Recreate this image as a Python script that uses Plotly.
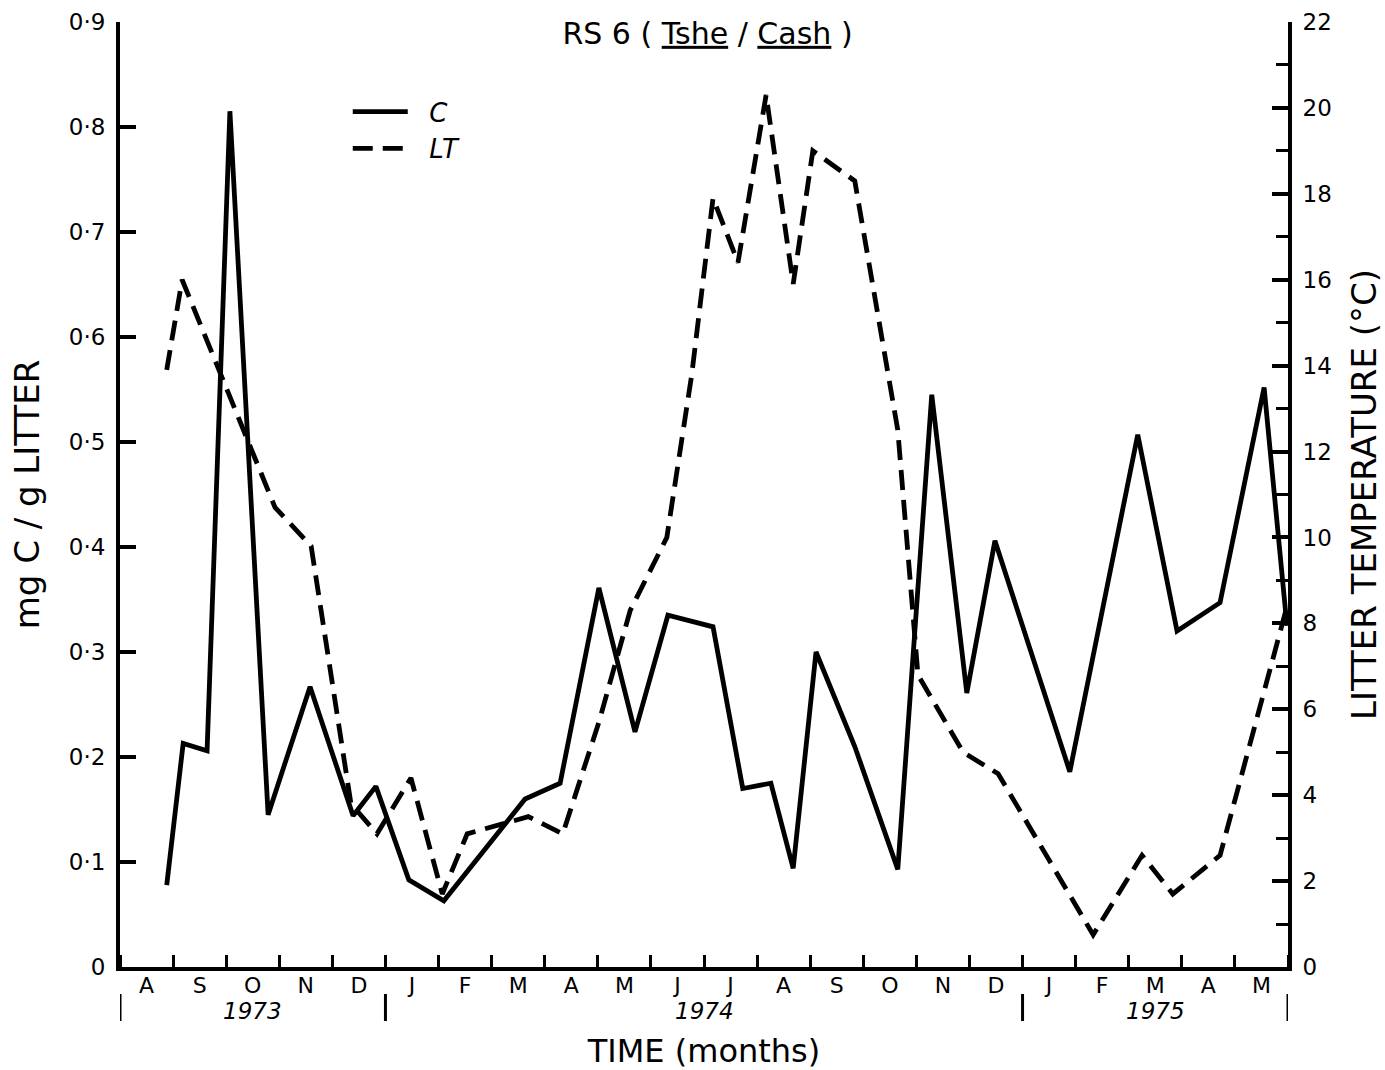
import plotly.graph_objects as go

# ---- data (time in months since 1 Aug 1973) ----
months = ["A", "S", "O", "N", "D", "J", "F", "M", "A", "M", "J",
          "J", "A", "S", "O", "N", "D", "J", "F", "M", "A", "M"]
year_labels = ["1973", "1974", "1975"]
year_bounds = [0, 5, 17, 22]

c_time = [0.88, 1.19, 1.64, 2.07, 2.79, 3.58, 4.39, 4.82, 5.44, 6.10,
          7.63, 8.29, 9.02, 9.70, 10.32, 10.81, 11.17, 11.73, 12.26, 12.68,
          13.11, 13.84, 14.65, 15.29, 15.95, 16.48, 17.89, 19.17, 19.91,
          20.72, 21.55, 21.98]
c_value = [0.078, 0.213, 0.206, 0.815, 0.145, 0.267, 0.144, 0.172, 0.083, 0.063,
           0.160, 0.175, 0.361, 0.224, 0.335, 0.328, 0.324, 0.170, 0.175, 0.094,
           0.300, 0.210, 0.093, 0.545, 0.261, 0.406, 0.186, 0.507, 0.320,
           0.347, 0.552, 0.325]

lt_time = [0.88, 1.17, 2.92, 3.60, 4.35, 4.84, 5.48, 6.07, 6.54, 7.69,
           8.34, 9.02, 9.61, 10.30, 10.77, 11.17, 11.64, 12.17, 12.68, 13.05,
           13.84, 14.65, 15.03, 15.88, 16.54, 17.89, 18.33, 19.25, 19.83,
           20.72, 21.96]
lt_value = [13.9, 16.0, 10.7, 9.8, 3.8, 3.1, 4.4, 1.7, 3.1, 3.5,
            3.1, 5.7, 8.3, 10.0, 13.8, 17.9, 16.4, 20.3, 15.9, 19.0,
            18.3, 12.5, 6.8, 5.0, 4.5, 1.7, 0.75, 2.6, 1.7,
            2.6, 8.3]

left_tickvals = [0, 0.1, 0.2, 0.3, 0.4, 0.5, 0.6, 0.7, 0.8, 0.9]
left_ticktext = ["0", "0·1", "0·2", "0·3", "0·4", "0·5", "0·6", "0·7", "0·8", "0·9"]
right_tickvals = [0, 2, 4, 6, 8, 10, 12, 14, 16, 18, 20, 22]

FONT = "DejaVu Sans"
BLACK = "black"
NB = "\u00a0\u00a0"

fig = go.Figure()
fig.add_trace(go.Scatter(
    x=c_time, y=c_value, mode="lines", name=NB + "<i>C</i>",
    line=dict(color=BLACK, width=4.8), xaxis="x", yaxis="y"))
fig.add_trace(go.Scatter(
    x=lt_time, y=lt_value, mode="lines", name=NB + "<i>LT</i>",
    line=dict(color=BLACK, width=4.8, dash="20px,10px"), xaxis="x", yaxis="y2"))

month_centers = [i + 0.5 for i in range(len(months))]

fig.update_layout(
    width=1385, height=1070,
    margin=dict(l=120, r=97, t=22, b=103, autoexpand=False),
    paper_bgcolor="white", plot_bgcolor="white",
    font=dict(family=FONT, color=BLACK, size=22),
    title=dict(text="RS 6 ( <u>Tshe</u> / <u>Cash</u> )",
               x=0.503, xref="paper", xanchor="center",
               y=0.988, yref="paper", yanchor="middle",
               font=dict(family=FONT, size=30, color=BLACK)),
    showlegend=True,
    legend=dict(x=0.195, y=0.93, xanchor="left", yanchor="top",
                bgcolor="rgba(0,0,0,0)", itemwidth=55,
                font=dict(family=FONT, size=26, color=BLACK),
                tracegroupgap=0),
    xaxis=dict(
        range=[0, 22], showgrid=False, zeroline=False, automargin=False,
        showline=True, linecolor=BLACK, linewidth=4,
        tickmode="array", tickvals=month_centers, ticktext=months,
        ticks="", ticklabelstandoff=-4,
        tickfont=dict(family=FONT, size=22, color=BLACK),
        minor=dict(tickmode="linear", tick0=0, dtick=1, ticks="inside",
                   ticklen=12, tickwidth=3, tickcolor=BLACK, showgrid=False),
        title=dict(text="TIME (months)", standoff=48,
                   font=dict(family=FONT, size=32, color=BLACK)),
    ),
    yaxis=dict(
        range=[0, 0.9], showgrid=False, zeroline=False, automargin=False,
        showline=True, linecolor=BLACK, linewidth=4,
        tickmode="array", tickvals=left_tickvals, ticktext=left_ticktext,
        ticks="inside", ticklen=16, tickwidth=3.5, tickcolor=BLACK,
        ticklabelstandoff=6,
        tickfont=dict(family=FONT, size=23, color=BLACK),
        title=dict(text="mg C / g LITTER", standoff=20,
                   font=dict(family=FONT, size=34, color=BLACK)),
    ),
    yaxis2=dict(
        range=[0, 22], overlaying="y", side="right", anchor="x",
        showgrid=False, zeroline=False, automargin=False,
        showline=True, linecolor=BLACK, linewidth=4,
        tickmode="array", tickvals=right_tickvals,
        ticks="inside", ticklen=16, tickwidth=3.5, tickcolor=BLACK,
        ticklabelstandoff=6,
        minor=dict(tickmode="linear", tick0=1, dtick=2, ticks="inside",
                   ticklen=12, tickwidth=3, tickcolor=BLACK, showgrid=False),
        tickfont=dict(family=FONT, size=23, color=BLACK),
        title=dict(text="LITTER TEMPERATURE (°C)", standoff=22,
                   font=dict(family=FONT, size=34, color=BLACK)),
    ),
)

# year separators and labels under the month row
sep_y0 = (967 - 994) / 945
sep_y1 = (967 - 1021) / 945
for b in year_bounds:
    fig.add_shape(type="line", xref="x", yref="paper", x0=b, x1=b,
                  y0=sep_y0, y1=sep_y1, line=dict(color=BLACK, width=3))
for i, label in enumerate(year_labels):
    fig.add_annotation(text=f"<i>{label}</i>", xref="x", yref="paper",
                       x=(year_bounds[i] + year_bounds[i + 1]) / 2,
                       y=(967 - 1011) / 945, yanchor="middle",
                       showarrow=False,
                       font=dict(family=FONT, size=23, color=BLACK))

fig.write_html("out.html")
